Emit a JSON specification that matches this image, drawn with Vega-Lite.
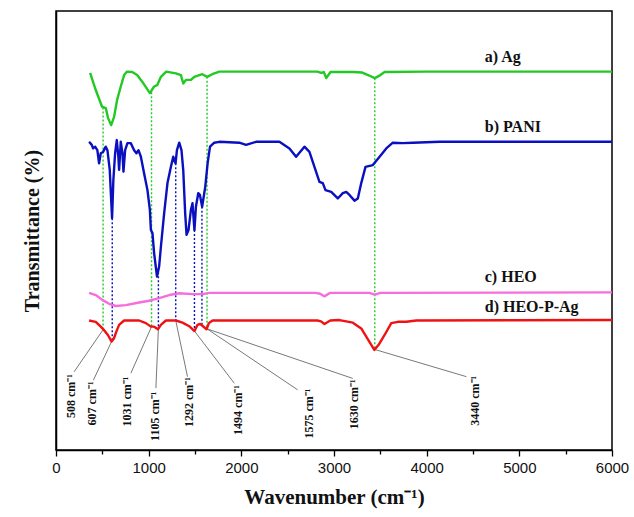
{
  "$schema": "https://vega.github.io/schema/vega-lite/v6.json",
  "width": 556,
  "height": 439,
  "autosize": {"type": "none"},
  "padding": {"left": 56, "top": 11, "right": 22, "bottom": 67},
  "background": "white",
  "config": {
    "view": {"stroke": "#000", "strokeWidth": 1.5},
    "axis": {"grid": false}
  },
  "datasets": {
    "curves": [
      {"series": "a) Ag", "wn": 368, "T": 85.9}, {"series": "a) Ag", "wn": 429, "T": 82.0}, {"series": "a) Ag", "wn": 497, "T": 78.2}, {"series": "a) Ag", "wn": 537, "T": 77.9}, {"series": "a) Ag", "wn": 562, "T": 75.6}, {"series": "a) Ag", "wn": 595, "T": 74.0}, {"series": "a) Ag", "wn": 627, "T": 75.9}, {"series": "a) Ag", "wn": 659, "T": 79.7}, {"series": "a) Ag", "wn": 699, "T": 82.8}, {"series": "a) Ag", "wn": 735, "T": 85.4}, {"series": "a) Ag", "wn": 767, "T": 86.2}, {"series": "a) Ag", "wn": 822, "T": 86.1}, {"series": "a) Ag", "wn": 876, "T": 85.4}, {"series": "a) Ag", "wn": 930, "T": 83.9}, {"series": "a) Ag", "wn": 1013, "T": 81.3}, {"series": "a) Ag", "wn": 1059, "T": 82.8}, {"series": "a) Ag", "wn": 1092, "T": 83.1}, {"series": "a) Ag", "wn": 1132, "T": 85.0}, {"series": "a) Ag", "wn": 1189, "T": 86.2}, {"series": "a) Ag", "wn": 1294, "T": 85.8}, {"series": "a) Ag", "wn": 1348, "T": 85.4}, {"series": "a) Ag", "wn": 1373, "T": 83.5}, {"series": "a) Ag", "wn": 1402, "T": 84.3}, {"series": "a) Ag", "wn": 1456, "T": 84.3}, {"series": "a) Ag", "wn": 1492, "T": 85.0}, {"series": "a) Ag", "wn": 1578, "T": 85.6}, {"series": "a) Ag", "wn": 1632, "T": 85.0}, {"series": "a) Ag", "wn": 1686, "T": 85.6}, {"series": "a) Ag", "wn": 1762, "T": 86.2}, {"series": "a) Ag", "wn": 2000, "T": 86.2}, {"series": "a) Ag", "wn": 2500, "T": 86.2}, {"series": "a) Ag", "wn": 2820, "T": 86.2}, {"series": "a) Ag", "wn": 2862, "T": 85.9}, {"series": "a) Ag", "wn": 2890, "T": 86.1}, {"series": "a) Ag", "wn": 2916, "T": 84.7}, {"series": "a) Ag", "wn": 2962, "T": 86.1}, {"series": "a) Ag", "wn": 3200, "T": 86.1}, {"series": "a) Ag", "wn": 3300, "T": 86.0}, {"series": "a) Ag", "wn": 3380, "T": 85.3}, {"series": "a) Ag", "wn": 3440, "T": 84.7}, {"series": "a) Ag", "wn": 3500, "T": 85.4}, {"series": "a) Ag", "wn": 3546, "T": 86.1}, {"series": "a) Ag", "wn": 4000, "T": 86.2}, {"series": "a) Ag", "wn": 5000, "T": 86.2}, {"series": "a) Ag", "wn": 6000, "T": 86.2},
      {"series": "b) PANI", "wn": 357, "T": 70.2}, {"series": "b) PANI", "wn": 386, "T": 69.5}, {"series": "b) PANI", "wn": 400, "T": 68.7}, {"series": "b) PANI", "wn": 422, "T": 69.1}, {"series": "b) PANI", "wn": 446, "T": 68.3}, {"series": "b) PANI", "wn": 465, "T": 65.3}, {"series": "b) PANI", "wn": 483, "T": 67.6}, {"series": "b) PANI", "wn": 508, "T": 67.9}, {"series": "b) PANI", "wn": 537, "T": 69.1}, {"series": "b) PANI", "wn": 555, "T": 68.3}, {"series": "b) PANI", "wn": 580, "T": 63.8}, {"series": "b) PANI", "wn": 605, "T": 52.8}, {"series": "b) PANI", "wn": 619, "T": 61.5}, {"series": "b) PANI", "wn": 638, "T": 67.6}, {"series": "b) PANI", "wn": 656, "T": 70.6}, {"series": "b) PANI", "wn": 673, "T": 66.8}, {"series": "b) PANI", "wn": 681, "T": 63.8}, {"series": "b) PANI", "wn": 699, "T": 70.2}, {"series": "b) PANI", "wn": 717, "T": 67.6}, {"series": "b) PANI", "wn": 728, "T": 63.4}, {"series": "b) PANI", "wn": 746, "T": 68.3}, {"series": "b) PANI", "wn": 771, "T": 69.9}, {"series": "b) PANI", "wn": 807, "T": 69.9}, {"series": "b) PANI", "wn": 843, "T": 68.3}, {"series": "b) PANI", "wn": 868, "T": 67.6}, {"series": "b) PANI", "wn": 890, "T": 68.3}, {"series": "b) PANI", "wn": 916, "T": 66.8}, {"series": "b) PANI", "wn": 951, "T": 63.0}, {"series": "b) PANI", "wn": 987, "T": 59.2}, {"series": "b) PANI", "wn": 1013, "T": 54.7}, {"series": "b) PANI", "wn": 1024, "T": 50.1}, {"series": "b) PANI", "wn": 1041, "T": 49.4}, {"series": "b) PANI", "wn": 1059, "T": 44.8}, {"series": "b) PANI", "wn": 1090, "T": 39.5}, {"series": "b) PANI", "wn": 1113, "T": 41.8}, {"series": "b) PANI", "wn": 1132, "T": 46.3}, {"series": "b) PANI", "wn": 1167, "T": 53.9}, {"series": "b) PANI", "wn": 1203, "T": 60.8}, {"series": "b) PANI", "wn": 1240, "T": 64.5}, {"series": "b) PANI", "wn": 1265, "T": 66.8}, {"series": "b) PANI", "wn": 1290, "T": 65.3}, {"series": "b) PANI", "wn": 1305, "T": 68.3}, {"series": "b) PANI", "wn": 1330, "T": 70.0}, {"series": "b) PANI", "wn": 1354, "T": 68.3}, {"series": "b) PANI", "wn": 1373, "T": 63.8}, {"series": "b) PANI", "wn": 1394, "T": 53.9}, {"series": "b) PANI", "wn": 1409, "T": 49.0}, {"series": "b) PANI", "wn": 1430, "T": 50.1}, {"series": "b) PANI", "wn": 1456, "T": 54.7}, {"series": "b) PANI", "wn": 1473, "T": 56.2}, {"series": "b) PANI", "wn": 1494, "T": 50.1}, {"series": "b) PANI", "wn": 1510, "T": 55.4}, {"series": "b) PANI", "wn": 1535, "T": 58.5}, {"series": "b) PANI", "wn": 1553, "T": 58.1}, {"series": "b) PANI", "wn": 1577, "T": 55.4}, {"series": "b) PANI", "wn": 1611, "T": 60.0}, {"series": "b) PANI", "wn": 1636, "T": 65.3}, {"series": "b) PANI", "wn": 1662, "T": 69.1}, {"series": "b) PANI", "wn": 1708, "T": 70.0}, {"series": "b) PANI", "wn": 1762, "T": 70.2}, {"series": "b) PANI", "wn": 1978, "T": 70.0}, {"series": "b) PANI", "wn": 2051, "T": 69.5}, {"series": "b) PANI", "wn": 2159, "T": 70.2}, {"series": "b) PANI", "wn": 2411, "T": 70.2}, {"series": "b) PANI", "wn": 2519, "T": 68.7}, {"series": "b) PANI", "wn": 2591, "T": 66.8}, {"series": "b) PANI", "wn": 2681, "T": 69.1}, {"series": "b) PANI", "wn": 2735, "T": 67.9}, {"series": "b) PANI", "wn": 2789, "T": 64.5}, {"series": "b) PANI", "wn": 2843, "T": 61.1}, {"series": "b) PANI", "wn": 2879, "T": 60.8}, {"series": "b) PANI", "wn": 2908, "T": 59.2}, {"series": "b) PANI", "wn": 2970, "T": 58.8}, {"series": "b) PANI", "wn": 3041, "T": 57.3}, {"series": "b) PANI", "wn": 3095, "T": 58.5}, {"series": "b) PANI", "wn": 3132, "T": 58.8}, {"series": "b) PANI", "wn": 3167, "T": 58.1}, {"series": "b) PANI", "wn": 3221, "T": 56.8}, {"series": "b) PANI", "wn": 3257, "T": 57.3}, {"series": "b) PANI", "wn": 3294, "T": 60.8}, {"series": "b) PANI", "wn": 3340, "T": 64.5}, {"series": "b) PANI", "wn": 3419, "T": 64.9}, {"series": "b) PANI", "wn": 3492, "T": 66.8}, {"series": "b) PANI", "wn": 3564, "T": 68.7}, {"series": "b) PANI", "wn": 3635, "T": 70.0}, {"series": "b) PANI", "wn": 3743, "T": 69.9}, {"series": "b) PANI", "wn": 3852, "T": 70.0}, {"series": "b) PANI", "wn": 4140, "T": 70.2}, {"series": "b) PANI", "wn": 5000, "T": 70.2}, {"series": "b) PANI", "wn": 6000, "T": 70.2},
      {"series": "c) HEO", "wn": 357, "T": 35.8}, {"series": "c) HEO", "wn": 429, "T": 35.3}, {"series": "c) HEO", "wn": 500, "T": 34.2}, {"series": "c) HEO", "wn": 573, "T": 33.3}, {"series": "c) HEO", "wn": 645, "T": 32.8}, {"series": "c) HEO", "wn": 753, "T": 33.0}, {"series": "c) HEO", "wn": 897, "T": 33.6}, {"series": "c) HEO", "wn": 1005, "T": 34.0}, {"series": "c) HEO", "wn": 1113, "T": 34.6}, {"series": "c) HEO", "wn": 1222, "T": 35.3}, {"series": "c) HEO", "wn": 1330, "T": 35.7}, {"series": "c) HEO", "wn": 1473, "T": 35.5}, {"series": "c) HEO", "wn": 1582, "T": 35.5}, {"series": "c) HEO", "wn": 1654, "T": 35.8}, {"series": "c) HEO", "wn": 1834, "T": 35.8}, {"series": "c) HEO", "wn": 2800, "T": 35.8}, {"series": "c) HEO", "wn": 2850, "T": 35.6}, {"series": "c) HEO", "wn": 2897, "T": 35.0}, {"series": "c) HEO", "wn": 2960, "T": 35.8}, {"series": "c) HEO", "wn": 3380, "T": 35.8}, {"series": "c) HEO", "wn": 3440, "T": 35.4}, {"series": "c) HEO", "wn": 3500, "T": 35.8}, {"series": "c) HEO", "wn": 6000, "T": 35.9},
      {"series": "d) HEO-P-Ag", "wn": 357, "T": 29.5}, {"series": "d) HEO-P-Ag", "wn": 429, "T": 29.2}, {"series": "d) HEO-P-Ag", "wn": 483, "T": 28.1}, {"series": "d) HEO-P-Ag", "wn": 519, "T": 27.3}, {"series": "d) HEO-P-Ag", "wn": 560, "T": 26.2}, {"series": "d) HEO-P-Ag", "wn": 600, "T": 24.7}, {"series": "d) HEO-P-Ag", "wn": 625, "T": 25.4}, {"series": "d) HEO-P-Ag", "wn": 650, "T": 26.9}, {"series": "d) HEO-P-Ag", "wn": 681, "T": 28.5}, {"series": "d) HEO-P-Ag", "wn": 735, "T": 29.5}, {"series": "d) HEO-P-Ag", "wn": 897, "T": 29.5}, {"series": "d) HEO-P-Ag", "wn": 970, "T": 28.9}, {"series": "d) HEO-P-Ag", "wn": 1024, "T": 28.1}, {"series": "d) HEO-P-Ag", "wn": 1059, "T": 28.1}, {"series": "d) HEO-P-Ag", "wn": 1100, "T": 27.5}, {"series": "d) HEO-P-Ag", "wn": 1132, "T": 28.5}, {"series": "d) HEO-P-Ag", "wn": 1186, "T": 29.5}, {"series": "d) HEO-P-Ag", "wn": 1294, "T": 29.5}, {"series": "d) HEO-P-Ag", "wn": 1365, "T": 29.0}, {"series": "d) HEO-P-Ag", "wn": 1438, "T": 28.2}, {"series": "d) HEO-P-Ag", "wn": 1494, "T": 27.1}, {"series": "d) HEO-P-Ag", "wn": 1527, "T": 28.5}, {"series": "d) HEO-P-Ag", "wn": 1555, "T": 28.7}, {"series": "d) HEO-P-Ag", "wn": 1580, "T": 28.3}, {"series": "d) HEO-P-Ag", "wn": 1625, "T": 27.5}, {"series": "d) HEO-P-Ag", "wn": 1650, "T": 28.9}, {"series": "d) HEO-P-Ag", "wn": 1690, "T": 29.5}, {"series": "d) HEO-P-Ag", "wn": 2820, "T": 29.5}, {"series": "d) HEO-P-Ag", "wn": 2860, "T": 29.3}, {"series": "d) HEO-P-Ag", "wn": 2897, "T": 28.7}, {"series": "d) HEO-P-Ag", "wn": 2960, "T": 29.5}, {"series": "d) HEO-P-Ag", "wn": 3059, "T": 29.6}, {"series": "d) HEO-P-Ag", "wn": 3203, "T": 29.0}, {"series": "d) HEO-P-Ag", "wn": 3294, "T": 27.7}, {"series": "d) HEO-P-Ag", "wn": 3348, "T": 25.8}, {"series": "d) HEO-P-Ag", "wn": 3435, "T": 22.8}, {"series": "d) HEO-P-Ag", "wn": 3480, "T": 23.9}, {"series": "d) HEO-P-Ag", "wn": 3546, "T": 26.2}, {"series": "d) HEO-P-Ag", "wn": 3618, "T": 28.9}, {"series": "d) HEO-P-Ag", "wn": 3689, "T": 29.2}, {"series": "d) HEO-P-Ag", "wn": 3780, "T": 29.2}, {"series": "d) HEO-P-Ag", "wn": 3888, "T": 29.5}, {"series": "d) HEO-P-Ag", "wn": 6000, "T": 29.6}
    ],
    "guides": [
      {"series": "a) Ag", "wn": 508, "top": 78.0, "bottom": 27.4},
      {"series": "b) PANI", "wn": 607, "top": 52.8, "bottom": 24.8},
      {"series": "a) Ag", "wn": 1031, "top": 81.5, "bottom": 28.1},
      {"series": "b) PANI", "wn": 1105, "top": 40.5, "bottom": 27.6},
      {"series": "b) PANI", "wn": 1292, "top": 65.3, "bottom": 29.5},
      {"series": "b) PANI", "wn": 1494, "top": 50.1, "bottom": 27.1},
      {"series": "b) PANI", "wn": 1575, "top": 55.4, "bottom": 28.3},
      {"series": "a) Ag", "wn": 1630, "top": 85.0, "bottom": 27.6},
      {"series": "a) Ag", "wn": 3440, "top": 84.7, "bottom": 22.9}
    ],
    "peaks": [
      {"label": "508 cm⁻¹", "wn": 508, "T": 27.4, "endWn": 195, "endT": 17.8, "labWn": 159, "labT": 17.3},
      {"label": "607 cm⁻¹", "wn": 600, "T": 24.7, "endWn": 403, "endT": 15.9, "labWn": 392, "labT": 15.6},
      {"label": "1031 cm⁻¹", "wn": 1031, "T": 28.1, "endWn": 808, "endT": 17.5, "labWn": 771, "labT": 16.7},
      {"label": "1105 cm⁻¹", "wn": 1105, "T": 27.6, "endWn": 1078, "endT": 14.1, "labWn": 1070, "labT": 13.3},
      {"label": "1292 cm⁻¹", "wn": 1292, "T": 29.5, "endWn": 1419, "endT": 16.7, "labWn": 1438, "labT": 16.6},
      {"label": "1494 cm⁻¹", "wn": 1494, "T": 27.1, "endWn": 1924, "endT": 15.2, "labWn": 1960, "labT": 14.8},
      {"label": "1575 cm⁻¹", "wn": 1580, "T": 28.3, "endWn": 2608, "endT": 13.7, "labWn": 2727, "labT": 14.0},
      {"label": "1630 cm⁻¹", "wn": 1630, "T": 27.6, "endWn": 3203, "endT": 16.3, "labWn": 3221, "labT": 16.1},
      {"label": "3440 cm⁻¹", "wn": 3440, "T": 22.9, "endWn": 4429, "endT": 16.7, "labWn": 4519, "labT": 16.9}
    ],
    "names": [
      {"series": "a) Ag", "wn": 4627, "T": 89.5},
      {"series": "b) PANI", "wn": 4627, "T": 73.6},
      {"series": "c) HEO", "wn": 4627, "T": 39.5},
      {"series": "d) HEO-P-Ag", "wn": 4627, "T": 32.6}
    ]
  },
  "layer": [
    {
      "data": {"name": "peaks"},
      "mark": {"type": "rule", "color": "#555555", "strokeWidth": 0.8},
      "encoding": {
        "x": {"field": "wn", "type": "quantitative"},
        "y": {"field": "T", "type": "quantitative"},
        "x2": {"field": "endWn"},
        "y2": {"field": "endT"}
      }
    },
    {
      "data": {"name": "guides"},
      "mark": {"type": "rule", "strokeWidth": 1.4, "strokeDash": [2, 2]},
      "encoding": {
        "x": {"field": "wn", "type": "quantitative"},
        "y": {"field": "top", "type": "quantitative"},
        "y2": {"field": "bottom"},
        "color": {"field": "series", "type": "nominal", "legend": null}
      }
    },
    {
      "data": {"name": "curves"},
      "mark": {"type": "line", "strokeWidth": 2.4, "strokeJoin": "round"},
      "encoding": {
        "x": {
          "field": "wn", "type": "quantitative",
          "scale": {"domain": [0, 6000], "nice": false, "zero": false},
          "axis": {
            "title": "Wavenumber (cm⁻¹)",
            "values": [0, 500, 1000, 1500, 2000, 2500, 3000, 3500, 4000, 4500, 5000, 5500, 6000],
            "format": "d",
            "labelExpr": "datum.value % 1000 === 0 ? datum.label : ''",
            "tickSize": {"condition": {"test": "datum.value % 1000 === 0", "value": 6}, "value": 4},
            "tickColor": "#000",
            "tickWidth": 1.3,
            "domainColor": "#000",
            "domainWidth": 1.5,
            "labelFont": "Liberation Sans",
            "labelFontSize": 15,
            "labelColor": "#111",
            "labelPadding": 4,
            "labelFlush": false,
            "titleFont": "Liberation Serif",
            "titleFontSize": 21,
            "titleFontWeight": "bold",
            "titleColor": "#111",
            "titlePadding": 11
          }
        },
        "y": {
          "field": "T", "type": "quantitative",
          "scale": {"domain": [0, 100], "nice": false},
          "axis": {
            "title": "Transmittance (%)",
            "ticks": false,
            "labels": false,
            "domainColor": "#000",
            "domainWidth": 1.5,
            "titleFont": "Liberation Serif",
            "titleFontSize": 20,
            "titleFontWeight": "bold",
            "titleColor": "#111",
            "titlePadding": 14
          }
        },
        "color": {
          "field": "series", "type": "nominal",
          "scale": {"domain": ["a) Ag", "b) PANI", "c) HEO", "d) HEO-P-Ag"], "range": ["#22C922", "#0A10C0", "#F66EDC", "#F01212"]},
          "legend": null
        }
      }
    },
    {
      "data": {"name": "peaks"},
      "mark": {"type": "text", "angle": 270, "align": "right", "baseline": "middle", "font": "Liberation Serif", "fontWeight": "bold", "fontSize": 12, "color": "#111"},
      "encoding": {
        "x": {"field": "labWn", "type": "quantitative"},
        "y": {"field": "labT", "type": "quantitative"},
        "text": {"field": "label"}
      }
    },
    {
      "data": {"name": "names"},
      "mark": {"type": "text", "align": "left", "baseline": "middle", "font": "Liberation Serif", "fontWeight": "bold", "fontSize": 16, "color": "#111"},
      "encoding": {
        "x": {"field": "wn", "type": "quantitative"},
        "y": {"field": "T", "type": "quantitative"},
        "text": {"field": "series"}
      }
    }
  ]
}
